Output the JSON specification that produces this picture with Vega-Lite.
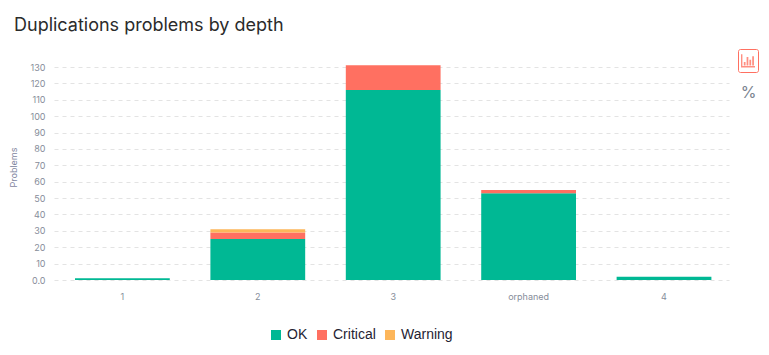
{"$schema":"https://vega.github.io/schema/vega-lite/v6.json","width":675,"height":213,"autosize":"none","padding":{"left":54,"top":67,"right":40,"bottom":75},"background":"#ffffff","view":{"stroke":null},"title":{"text":"Duplications problems by depth","anchor":"start","frame":"group","font":"Inter","fontSize":18,"fontWeight":400,"color":"#2b2b2b","dx":-40,"offset":14},"data":{"values":[{"depth":"1","status":"OK","order":0,"problems":1},{"depth":"2","status":"OK","order":0,"problems":25},{"depth":"2","status":"Critical","order":1,"problems":4},{"depth":"2","status":"Warning","order":2,"problems":2},{"depth":"3","status":"OK","order":0,"problems":116},{"depth":"3","status":"Critical","order":1,"problems":15},{"depth":"orphaned","status":"OK","order":0,"problems":53},{"depth":"orphaned","status":"Critical","order":1,"problems":2},{"depth":"4","status":"OK","order":0,"problems":2}]},"mark":{"type":"bar","stroke":null},"encoding":{"x":{"field":"depth","type":"nominal","sort":["1","2","3","orphaned","4"],"scale":{"paddingInner":0.3,"paddingOuter":0.1425,"align":0.544},"axis":{"title":"%","titleX":694,"titleY":-196,"titleFont":"Inter","titleFontSize":16,"titleFontWeight":400,"titleColor":"#7a8490","titleAlign":"center","labelAngle":0,"labelFont":"Inter","labelFontSize":9,"labelColor":"#868d9a","labelPadding":12,"ticks":false,"domain":false,"grid":false}},"y":{"field":"problems","type":"quantitative","stack":"zero","scale":{"domain":[0,130],"nice":false},"axis":{"values":[0,10,20,30,40,50,60,70,80,90,100,110,120,130],"labelExpr":"datum.value === 0 ? '0.0' : datum.label","title":"Problems","titleFont":"Inter","titleFontSize":9,"titleFontWeight":400,"titleColor":"#7f86a0","titleX":-36,"titleY":100,"labelFont":"Inter","labelFontSize":9,"labelColor":"#868d9a","labelPadding":9,"ticks":false,"domain":false,"grid":true,"gridColor":"#e3e3e3","gridDash":[4,4],"gridWidth":1}},"color":{"field":"status","type":"nominal","scale":{"domain":["OK","Critical","Warning"],"range":["#00b894","#ff7061","#fdb65a"]},"legend":{"title":null,"orient":"none","direction":"horizontal","legendX":215,"legendY":261,"symbolType":"square","symbolSize":100,"symbolStrokeWidth":0,"symbolOpacity":1,"labelFont":"Liberation Sans","labelFontSize":14,"labelColor":"#1f2333","labelOffset":4,"columnPadding":7,"symbolOffset":0}},"opacity":{"datum":"chart view","type":"nominal","scale":{"range":[1]},"legend":{"title":null,"orient":"none","legendX":684,"legendY":-18,"padding":3,"strokeColor":"#ff7061","cornerRadius":2,"symbolType":"M-1 -0.9V1H1V0.8H-0.8V-0.9Z M-0.6 0.2H-0.35V0.7H-0.6Z M-0.2 -0.5H0.05V0.7H-0.2Z M0.2 -0.1H0.45V0.7H0.2Z M0.6 -0.6H0.85V0.7H0.6Z","symbolSize":196,"symbolFillColor":"#ff8f82","symbolStrokeColor":"#ff7061","symbolStrokeWidth":0,"symbolOpacity":1,"labelExpr":"''","labelOffset":0,"labelFontSize":1,"clipHeight":17}},"order":{"field":"order","type":"quantitative"},"tooltip":[{"field":"depth"},{"field":"status"},{"field":"problems"}]}}
